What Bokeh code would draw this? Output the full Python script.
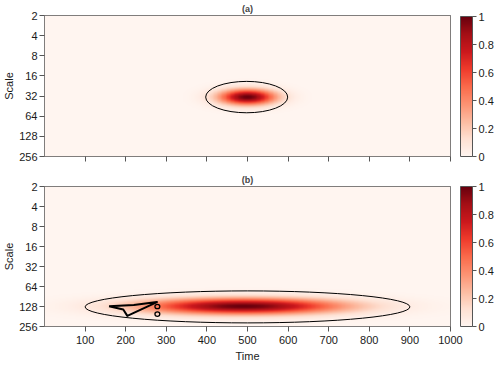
import numpy as np
from bokeh.plotting import figure
from bokeh.layouts import column
from bokeh.models import (Range1d, FixedTicker, LinearColorMapper, ColorBar,
                          CustomJSTickFormatter)
from bokeh.palettes import Reds256
from bokeh.embed import file_html
from bokeh.resources import INLINE

# ---------------- data ----------------
panel_titles = ["(a)", "(b)"]
time_ticks = [100, 200, 300, 400, 500, 600, 700, 800, 900, 1000]
scale_ticks = [2, 4, 8, 16, 32, 64, 128, 256]
colorbar_ticks = [0, 0.2, 0.4, 0.6, 0.8, 1]

# power blob of each panel: centre (time, log2 scale) and spread
blob_time_center = [500, 490]
blob_log2_center = [5.05, 7.0]
blob_time_spread = [48, 170]
blob_log2_spread = [0.27, 0.28]

# outer significance contour of each panel (ellipse): centre and half sizes
contour_time_center = [498, 500]
contour_log2_center = [5.05, 7.02]
contour_time_half = [101, 400]
contour_log2_half = [0.78, 0.8]

# inner contour of panel (b)
inner_b_time = [159, 220, 277, 204, 194, 159]
inner_b_log2 = [6.99, 6.92, 6.78, 7.47, 7.15, 6.99]
small_b_time = [278, 278]
small_b_log2 = [7.0, 7.38]

# ---------------- styling ----------------
FONT = "Liberation Sans"
GREY = "#555555"
pal = list(Reds256)
if pal[0].lower() == "#67000d":
    pal = pal[::-1]

t_grid = np.linspace(0, 1000, 501)
l_grid = np.linspace(8, 1, 351)  # rows from bottom (256) to top (2)

FW = 406


def make_panel(i, show_labels):
    p = figure(frame_width=FW, frame_height=141 if i == 0 else 140,
               x_range=Range1d(0, 1000), y_range=Range1d(-8, -1),
               output_backend="svg", toolbar_location=None,
               min_border_top=0, min_border_left=0, min_border_right=45,
               min_border_bottom=0 if show_labels else 15)
    p.title.text = panel_titles[i]
    p.title.align = "center"
    p.title.text_font = FONT
    p.title.text_font_size = "9px"
    p.title.text_font_style = "bold"
    p.title.standoff = 3
    p.title.offset = 0

    tt, ll = np.meshgrid(t_grid, l_grid)
    z = np.exp(-((tt - blob_time_center[i]) ** 2) / (2 * blob_time_spread[i] ** 2)
               - ((ll - blob_log2_center[i]) ** 2) / (2 * blob_log2_spread[i] ** 2))
    mapper = LinearColorMapper(palette=pal, low=0, high=1)
    p.image(image=[z], x=0, y=-8, dw=1000, dh=7, color_mapper=mapper)

    p.ellipse(x=[contour_time_center[i]], y=[-contour_log2_center[i]],
              width=[2 * contour_time_half[i]], height=[2 * contour_log2_half[i]],
              fill_color=None, line_color="black", line_width=1)
    if i == 1:
        p.line(inner_b_time, [-v for v in inner_b_log2], line_color="black",
               line_width=2, line_join="round")
        p.ellipse(x=small_b_time, y=[-v for v in small_b_log2], width=12,
                  height=0.22, fill_color=None, line_color="black", line_width=1.3)

    p.grid.visible = False
    p.outline_line_color = GREY
    p.outline_line_width = 1
    p.background_fill_color = "white"
    p.border_fill_color = "white"

    p.yaxis.ticker = FixedTicker(ticks=[-np.log2(s) for s in scale_ticks])
    p.yaxis.major_label_overrides = {int(-np.log2(s)): str(s) for s in scale_ticks}
    p.yaxis.axis_label = "Scale"
    p.xaxis.ticker = FixedTicker(ticks=time_ticks)
    for ax in (p.xaxis, p.yaxis):
        ax.axis_line_color = None
        ax.major_tick_line_color = GREY
        ax.major_tick_in = 0
        ax.major_tick_out = 5
        ax.minor_tick_line_color = None
        ax.major_label_text_font = FONT
        ax.major_label_text_font_size = "11px"
        ax.major_label_text_color = "#1a1a1a"
        ax.major_label_standoff = 2
        ax.axis_label_text_font = FONT
        ax.axis_label_text_font_size = "11px"
        ax.axis_label_text_font_style = "normal"
        ax.axis_label_text_color = "#1a1a1a"
        ax.axis_label_standoff = 1
    if show_labels:
        p.xaxis.axis_label = "Time"
        p.xaxis.major_label_standoff = 4
        p.xaxis.axis_label_standoff = 3
    else:
        p.xaxis.formatter = CustomJSTickFormatter(code="return ''")

    cb = ColorBar(color_mapper=mapper, location=(FW + 10, 0), width=12,
                  height=140, padding=0, margin=0,
                  ticker=FixedTicker(ticks=colorbar_ticks),
                  formatter=CustomJSTickFormatter(code="return tick.toString()"),
                  background_fill_alpha=0, border_line_color=None,
                  bar_line_color=GREY, major_tick_line_color=GREY,
                  major_tick_in=0, major_tick_out=4, label_standoff=2,
                  major_label_text_font=FONT, major_label_text_font_size="11px",
                  major_label_text_color="#1a1a1a")
    p.add_layout(cb, "center")
    return p


pa = make_panel(0, False)
pb = make_panel(1, True)
layout = column(pa, pb, spacing=0)
open("out.html", "w").write(file_html(layout, INLINE))
